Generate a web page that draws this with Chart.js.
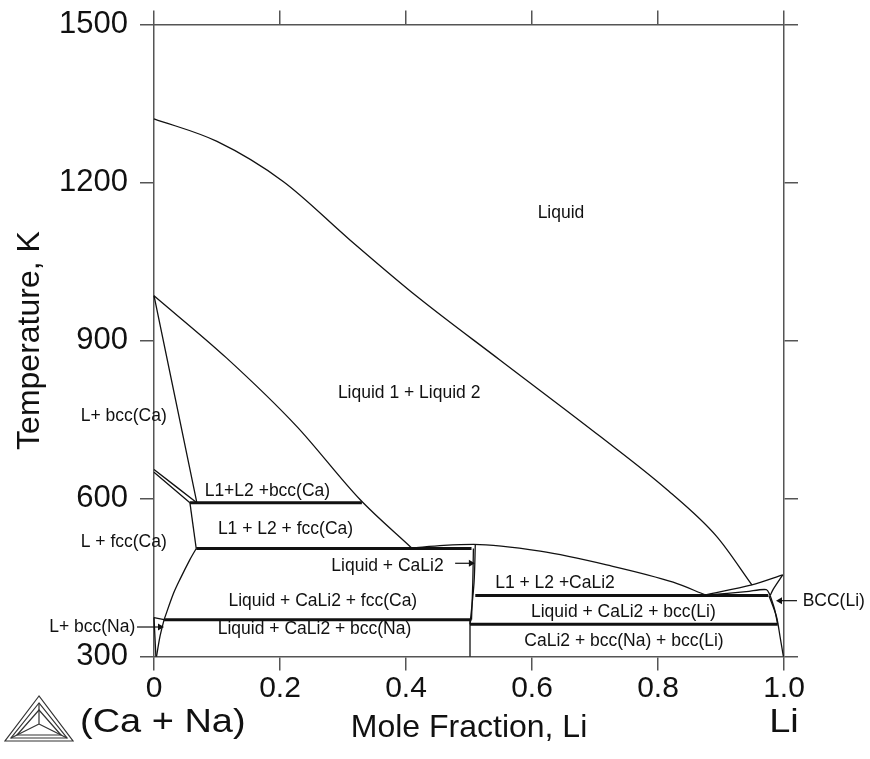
<!DOCTYPE html>
<html>
<head>
<meta charset="utf-8">
<title>Ca-Na-Li isopleth</title>
<script src="https://cdn.jsdelivr.net/npm/chart.js@4.4.1/dist/chart.umd.min.js"></script>
<style>
  html, body { margin: 0; padding: 0; background: #fff; }
  canvas { display: block; }
</style>
</head>
<body>
<canvas id="chart" width="870" height="759"></canvas>
<script>
// tick labels
const xTickLabels = ['0', '0.2', '0.4', '0.6', '0.8', '1.0'];
const yTickLabels = ['300', '600', '900', '1200', '1500'];

// phase boundaries: x = mole fraction Li, T in K
const liquidTopX = [0, 0.10, 0.205, 0.311, 0.417, 0.549, 0.708, 0.814, 0.893, 0.949];
const liquidTopT = [1321, 1278, 1202, 1091, 984, 863, 718, 617, 528, 436];

const gapLowX = [0, 0.115, 0.2265, 0.327, 0.409];
const gapLowT = [985, 867, 737, 598, 506];

const bccCaX = [0, 0.068];
const bccCaT = [985, 592];

const wedgeAX = [0, 0.068];
const wedgeAT = [655, 592];
const wedgeBX = [0, 0.057];
const wedgeBT = [650, 592];

const fccTopX = [0.057, 0.067];
const fccTopT = [592, 505];

const fccCaX = [0.067, 0.057, 0.041, 0.031, 0.016];
const fccCaT = [505, 484, 446, 420, 370];

const bccNaX = [0.016, 0.0095, 0.004];
const bccNaT = [370, 338, 300];
const naWedgeX = [0, 0.016];
const naWedgeT = [374, 370];
const naEdgeX = [0, 0.003];
const naEdgeT = [374, 300];

const domeX = [0.409, 0.46, 0.507, 0.613, 0.7185, 0.824, 0.875];
const domeT = [506, 511, 513, 500, 474, 441, 417];

const caLi2X = [0.5016, 0.5016];
const caLi2T = [300, 370];
const caLi2LeftX = [0.504, 0.506, 0.507];
const caLi2LeftT = [370, 440, 505];
const caLi2RightX = [0.5016, 0.508, 0.51];
const caLi2RightT = [361, 440, 512];

const liCornerAX = [0.875, 0.949, 0.998];
const liCornerAT = [417, 436, 455];
const liCornerBX = [0.88, 0.94, 0.972, 0.978];
const liCornerBT = [417, 423, 427, 416];
const liCornerCX = [0.998, 0.983, 0.978];
const liCornerCT = [455, 428, 416];
const bccLiX = [0.976, 0.988, 0.9937, 0.999];
const bccLiT = [416, 376, 338, 300];
const bccLi2X = [0.978, 0.985, 0.99];
const bccLi2T = [416, 390, 361];

// three-phase tie lines (thick)
const tieT = [592, 505, 416, 361, 370];
const tieFrom = [0.057, 0.067, 0.51, 0.5016, 0.016];
const tieTo = [0.33, 0.504, 0.975, 0.99, 0.504];

// arrows: start and end
const arrowX0 = [-0.027, 0.478, 1.0206];
const arrowX1 = [0.0095, 0.503, 0.9937];
const arrowT = [356, 477, 406];

// region labels
const regionText = ['Liquid', 'Liquid 1 + Liquid 2', 'L+ bcc(Ca)', 'L1+L2 +bcc(Ca)',
  'L1 + L2 + fcc(Ca)', 'L + fcc(Ca)', 'Liquid + CaLi2', 'Liquid + CaLi2 + fcc(Ca)',
  'Liquid + CaLi2 + bcc(Na)', 'L+ bcc(Na)', 'L1 + L2 +CaLi2', 'Liquid + CaLi2 + bcc(Li)',
  'CaLi2 + bcc(Na) + bcc(Li)', 'BCC(Li)'];
const regionX = [0.646, 0.405, -0.048, 0.180, 0.2087, -0.048, 0.3706, 0.268,
  0.2548, -0.098, 0.6365, 0.745, 0.746, 1.079];
const regionT = [1141, 800, 756, 613, 541, 518, 471, 404.5, 351, 356, 439, 383.6, 330, 406];

const INK = '#111';
const AXIS = '#555';
const FONT = '"Liberation Sans", Arial, Helvetica, sans-serif';

function pts(xs, ts) {
  return xs.map((x, i) => ({ x: x, y: ts[i] }));
}

function curve(xs, ts, width, smooth) {
  return {
    data: pts(xs, ts),
    showLine: true,
    borderColor: INK,
    borderWidth: width || 1.3,
    pointRadius: 0,
    tension: 0.3,
    cubicInterpolationMode: smooth ? 'monotone' : 'default',
    clip: false,
  };
}

const datasets = [
  curve(liquidTopX, liquidTopT, 1.3, true),
  curve(gapLowX, gapLowT, 1.3, true),
  curve(bccCaX, bccCaT),
  curve(wedgeAX, wedgeAT),
  curve(wedgeBX, wedgeBT),
  curve(fccTopX, fccTopT),
  curve(fccCaX, fccCaT),
  curve(bccNaX, bccNaT),
  curve(naWedgeX, naWedgeT),
  curve(naEdgeX, naEdgeT),
  curve(domeX, domeT, 1.3, true),
  curve(caLi2X, caLi2T),
  curve(caLi2LeftX, caLi2LeftT),
  curve(caLi2RightX, caLi2RightT),
  curve(liCornerAX, liCornerAT),
  curve(liCornerBX, liCornerBT),
  curve(liCornerCX, liCornerCT),
  curve(bccLiX, bccLiT),
  curve(bccLi2X, bccLi2T),
];

tieT.forEach((t, i) => {
  datasets.push(curve([tieFrom[i], tieTo[i]], [t, t], 3));
});

arrowT.forEach((t, i) => {
  const right = arrowX1[i] > arrowX0[i];
  datasets.push({
    data: pts([arrowX0[i], arrowX1[i]], [t, t]),
    showLine: true,
    borderColor: INK,
    borderWidth: 1.2,
    pointRadius: [0, 4],
    pointStyle: 'triangle',
    rotation: right ? 90 : -90,
    pointBackgroundColor: INK,
    pointBorderColor: INK,
    pointBorderWidth: 0,
    clip: false,
  });
});

// region names, Thermo-Calc logo and end-member names
const annotations = {
  id: 'annotations',
  afterDatasetsDraw(chart) {
    const { ctx, scales } = chart;
    ctx.save();
    ctx.fillStyle = INK;
    ctx.textAlign = 'center';
    ctx.textBaseline = 'middle';
    ctx.font = '17.5px ' + FONT;
    regionText.forEach((txt, i) => {
      ctx.fillText(txt, scales.x.getPixelForValue(regionX[i]), scales.y.getPixelForValue(regionT[i]));
    });

    // end members, drawn a little wide like the original
    ctx.font = '33px ' + FONT;
    ctx.textAlign = 'left';
    ctx.save();
    ctx.translate(80, 723);
    ctx.scale(1.15, 1);
    ctx.fillText('(Ca + Na)', 0, 0);
    ctx.restore();
    ctx.save();
    ctx.translate(scales.x.getPixelForValue(1), 723);
    ctx.scale(1.15, 1);
    ctx.textAlign = 'center';
    ctx.fillText('Li', 0, 0);
    ctx.restore();

    // logo
    ctx.strokeStyle = '#333';
    ctx.lineWidth = 1.2;
    const tri = (ax, ay, bx, by, cx, cy) => {
      ctx.beginPath();
      ctx.moveTo(ax, ay); ctx.lineTo(bx, by); ctx.lineTo(cx, cy); ctx.closePath();
      ctx.stroke();
    };
    tri(39, 696, 5, 741, 73, 741);
    tri(39, 703, 11, 738, 67, 738);
    tri(39, 710, 17, 735, 61, 735);
    ctx.beginPath();
    ctx.moveTo(39, 724); ctx.lineTo(39, 703);
    ctx.moveTo(39, 724); ctx.lineTo(11, 738);
    ctx.moveTo(39, 724); ctx.lineTo(67, 738);
    ctx.stroke();
    ctx.restore();
  },
};

const gridOpts = { drawOnChartArea: false, drawTicks: true, tickLength: 14, color: AXIS, lineWidth: 1.5 };
const borderOpts = { display: true, color: AXIS, width: 1.5 };

new Chart(document.getElementById('chart'), {
  type: 'scatter',
  data: { datasets: datasets },
  plugins: [annotations],
  options: {
    responsive: false,
    animation: false,
    layout: { padding: { left: 0, right: 72, top: 10.5, bottom: 0 } },
    plugins: { legend: { display: false }, tooltip: { enabled: false } },
    scales: {
      x: {
        type: 'linear', position: 'bottom', min: 0, max: 1,
        grid: gridOpts, border: borderOpts,
        ticks: {
          stepSize: 0.2, color: INK, padding: 0, maxRotation: 0,
          font: { size: 30, family: FONT },
          callback: (v) => xTickLabels[Math.round(v / 0.2)],
        },
        title: { display: true, text: 'Mole Fraction, Li', color: INK, font: { size: 32, family: FONT }, padding: { bottom: 12 } },
        afterFit: (s) => { s.height = 102.5; },
      },
      x2: {
        type: 'linear', position: 'top', min: 0, max: 1,
        grid: gridOpts, border: borderOpts,
        ticks: { stepSize: 0.2, display: false },
        afterFit: (s) => { s.height = 14; },
      },
      y: {
        type: 'linear', position: 'left', min: 300, max: 1500,
        grid: gridOpts, border: borderOpts,
        ticks: {
          stepSize: 300, color: INK, padding: 12,
          font: { size: 31, family: FONT },
          callback: (v) => yTickLabels[Math.round((v - 300) / 300)],
        },
        title: { display: true, text: 'Temperature, K', color: INK, font: { size: 32, family: FONT }, padding: { top: 11 } },
        // keep the plot box where the original has it
        afterFit: (s) => { s.width = 154; s.paddingTop = 0; s.paddingBottom = 0; },
      },
      y2: {
        type: 'linear', position: 'right', min: 300, max: 1500,
        grid: gridOpts, border: borderOpts,
        ticks: { stepSize: 300, display: false },
        afterFit: (s) => { s.width = 14; },
      },
    },
  },
});
</script>
</body>
</html>
